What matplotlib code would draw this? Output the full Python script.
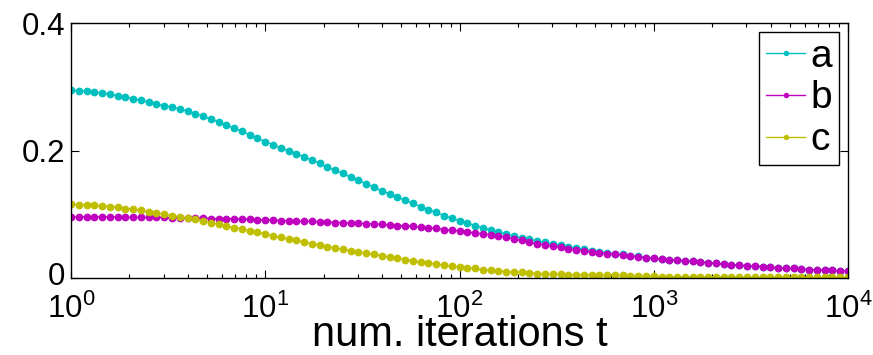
import numpy as np
import matplotlib
matplotlib.use("Agg")
import matplotlib.pyplot as plt
import matplotlib.transforms as mtransforms
from matplotlib.ticker import LogLocator

plt.rcParams['font.family'] = ['Liberation Sans', 'DejaVu Sans']
plt.rcParams['mathtext.fontset'] = 'custom'
plt.rcParams['mathtext.rm'] = 'Liberation Sans'

# iteration grid: 25 samples per decade from 10^0 to 10^4
t = np.logspace(0, 4, 101)

series_a = [
    0.295, 0.294, 0.293, 0.292, 0.290, 0.288, 0.286, 0.284, 0.281, 0.279,
    0.276, 0.273, 0.270, 0.268, 0.265, 0.262, 0.258, 0.254, 0.249, 0.245,
    0.240, 0.235, 0.230, 0.225, 0.219, 0.214, 0.209, 0.204, 0.200, 0.195,
    0.190, 0.185, 0.180, 0.174, 0.169, 0.164, 0.158, 0.153, 0.148, 0.142,
    0.137, 0.132, 0.127, 0.122, 0.117, 0.112, 0.107, 0.103, 0.098, 0.094,
    0.090, 0.086, 0.082, 0.079, 0.075, 0.072, 0.069, 0.066, 0.063, 0.061,
    0.058, 0.056, 0.053, 0.051, 0.049, 0.047, 0.045, 0.043, 0.041, 0.040,
    0.038, 0.037, 0.035, 0.034, 0.032, 0.031, 0.030, 0.029, 0.028, 0.027,
    0.026, 0.025, 0.024, 0.023, 0.022, 0.021, 0.020, 0.019, 0.019, 0.018,
    0.017, 0.016, 0.015, 0.015, 0.014, 0.013, 0.013, 0.012, 0.012, 0.011,
    0.011,
]

series_b = [
    0.096, 0.096, 0.096, 0.096, 0.096, 0.096, 0.096, 0.095, 0.095, 0.095,
    0.095, 0.095, 0.095, 0.094, 0.094, 0.094, 0.094, 0.094, 0.093, 0.093,
    0.093, 0.093, 0.092, 0.092, 0.091, 0.091, 0.091, 0.090, 0.090, 0.089,
    0.089, 0.089, 0.088, 0.088, 0.087, 0.087, 0.086, 0.086, 0.085, 0.085,
    0.084, 0.083, 0.082, 0.082, 0.081, 0.080, 0.079, 0.078, 0.076, 0.075,
    0.074, 0.072, 0.071, 0.069, 0.068, 0.066, 0.064, 0.061, 0.059, 0.056,
    0.054, 0.052, 0.050, 0.048, 0.046, 0.044, 0.043, 0.041, 0.040, 0.038,
    0.037, 0.036, 0.035, 0.033, 0.032, 0.031, 0.030, 0.029, 0.028, 0.027,
    0.026, 0.025, 0.024, 0.023, 0.022, 0.021, 0.020, 0.019, 0.019, 0.018,
    0.017, 0.016, 0.015, 0.015, 0.014, 0.013, 0.013, 0.012, 0.012, 0.011,
    0.011,
]

series_c = [
    0.116, 0.115, 0.115, 0.114, 0.113, 0.112, 0.111, 0.109, 0.108, 0.106,
    0.104, 0.102, 0.100, 0.098, 0.096, 0.094, 0.092, 0.089, 0.087, 0.084,
    0.082, 0.079, 0.077, 0.074, 0.072, 0.069, 0.066, 0.064, 0.061, 0.059,
    0.056, 0.054, 0.052, 0.049, 0.047, 0.045, 0.043, 0.041, 0.039, 0.037,
    0.035, 0.033, 0.031, 0.029, 0.027, 0.025, 0.023, 0.022, 0.020, 0.019,
    0.017, 0.016, 0.015, 0.013, 0.012, 0.011, 0.010, 0.009, 0.009, 0.008,
    0.007, 0.007, 0.006, 0.006, 0.005, 0.005, 0.005, 0.004, 0.004, 0.004,
    0.004, 0.004, 0.003, 0.003, 0.003, 0.003, 0.002, 0.002, 0.002, 0.002,
    0.002, 0.002, 0.002, 0.002, 0.002, 0.002, 0.001, 0.001, 0.001, 0.001,
    0.001, 0.001, 0.001, 0.001, 0.001, 0.001, 0.001, 0.001, 0.001, 0.001,
    0.001,
]

labels = ["a", "b", "c"]
colors = ["#00bfbf", "#bf00bf", "#bfbf00"]

fig = plt.figure(figsize=(8.73, 3.55), dpi=100)
ax = fig.add_axes([0.0813, 0.2169, 0.8901, 0.7183])

for ys, lab, col in zip([series_a, series_b, series_c], labels, colors):
    ax.plot(t, ys, color=col, lw=1.0, marker="o", ms=5.6, mec="none", label=lab)

ax.set_xscale("log")
ax.set_xlim(1, 1e4)
ax.set_ylim(0, 0.4)
ax.set_yticks([0, 0.2, 0.4])
ax.set_yticklabels(["0", "0.2", "0.4"])
ax.xaxis.set_major_locator(LogLocator(base=10, numticks=10))
ax.xaxis.set_minor_locator(LogLocator(base=10, subs=np.arange(2, 10), numticks=20))

ax.tick_params(which="both", direction="in", top=True, right=True, labelsize=22.5, width=0.8)
ax.tick_params(which="major", length=6)
ax.tick_params(which="minor", length=3)
ax.tick_params(axis="x", pad=11)
ax.tick_params(axis="y", pad=4)
for sp in ax.spines.values():
    sp.set_linewidth(1.0)
    sp.set_color("black")

# nudge the "0" label up a little so it clears the 10^0 label
zero_lbl = ax.get_yticklabels()[0]
zero_lbl.set_transform(zero_lbl.get_transform() +
                       mtransforms.ScaledTranslation(0, 3 / 72, fig.dpi_scale_trans))

ax.set_xlabel("num. iterations t", fontsize=30, labelpad=-7)

leg = ax.legend(loc="upper right", fontsize=28, frameon=True, fancybox=False,
                edgecolor="black", framealpha=1, handlelength=1.0, handletextpad=0.15,
                labelspacing=0.15, borderpad=0.18, borderaxespad=0.22, markerscale=0.7)
leg.get_frame().set_linewidth(1.0)

fig.savefig("out.png", dpi=100)
